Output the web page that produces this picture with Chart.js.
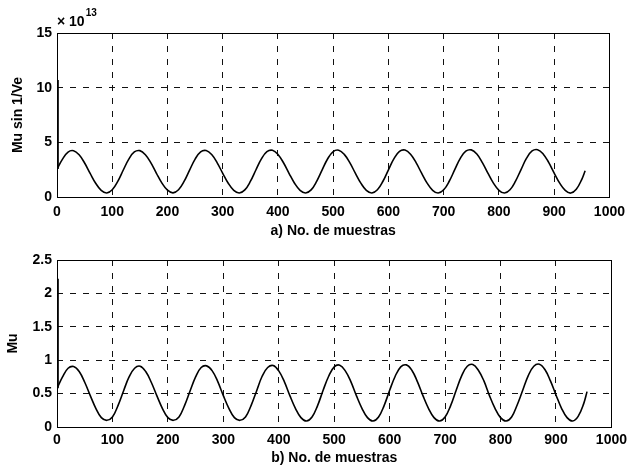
<!DOCTYPE html>
<html>
<head>
<meta charset="utf-8">
<script src="https://cdn.jsdelivr.net/npm/chart.js@4/dist/chart.umd.min.js"></script>
<style>
    html, body { margin: 0; padding: 0; background: #fff; }
    #wrap { position: relative; width: 632px; height: 470px; overflow: hidden; }
    canvas { position: absolute; left: 0; }
    #chartA { top: 0; }
    #chartB { top: 240px; }
</style>
</head>
<body>
<div id="wrap">
    <canvas id="chartA" width="632" height="245"></canvas>
    <canvas id="chartB" width="632" height="230"></canvas>
</div>
<script>
// sample index (No. de muestras)
const sampleX = [
    0, 10, 20, 30, 40, 50, 60, 70, 80, 90, 100, 110,
    120, 130, 140, 150, 160, 170, 180, 190, 200, 210, 220, 230,
    240, 250, 260, 270, 280, 290, 300, 310, 320, 330, 340, 350,
    360, 370, 380, 390, 400, 410, 420, 430, 440, 450, 460, 470,
    480, 490, 500, 510, 520, 530, 540, 550, 560, 570, 580, 590,
    600, 610, 620, 630, 640, 650, 660, 670, 680, 690, 700, 710,
    720, 730, 740, 750, 760, 770, 780, 790, 800, 810, 820, 830,
    840, 850, 860, 870, 880, 890, 900, 910, 920, 930, 940, 950,
    956
];

// a) Mu sin 1/Ve, in units of 1e13
const muSinVe = [
    2.55, 3.46, 4.11, 4.23, 3.86, 3.11, 2.16, 1.26, 0.61, 0.37, 0.66, 1.43,
    2.47, 3.47, 4.12, 4.24, 3.87, 3.12, 2.17, 1.27, 0.62, 0.38, 0.66, 1.42,
    2.46, 3.47, 4.13, 4.25, 3.88, 3.12, 2.17, 1.26, 0.61, 0.37, 0.65, 1.42,
    2.47, 3.48, 4.14, 4.27, 3.89, 3.13, 2.17, 1.26, 0.61, 0.37, 0.65, 1.43,
    2.48, 3.50, 4.16, 4.28, 3.90, 3.14, 2.18, 1.27, 0.61, 0.37, 0.66, 1.44,
    2.49, 3.51, 4.17, 4.29, 3.91, 3.14, 2.18, 1.27, 0.61, 0.36, 0.66, 1.44,
    2.50, 3.53, 4.19, 4.31, 3.93, 3.15, 2.18, 1.27, 0.61, 0.36, 0.66, 1.45,
    2.51, 3.55, 4.21, 4.33, 3.94, 3.16, 2.19, 1.27, 0.61, 0.36, 0.70, 1.62,
    2.40
];

// b) Mu
const mu = [
    0.58, 0.75, 0.88, 0.905, 0.83, 0.67, 0.47, 0.28, 0.14, 0.10, 0.15, 0.32,
    0.54, 0.75, 0.88, 0.91, 0.83, 0.67, 0.47, 0.28, 0.14, 0.10, 0.15, 0.32,
    0.54, 0.75, 0.89, 0.915, 0.84, 0.68, 0.47, 0.28, 0.14, 0.10, 0.15, 0.32,
    0.54, 0.76, 0.89, 0.92, 0.84, 0.68, 0.47, 0.28, 0.14, 0.09, 0.15, 0.32,
    0.55, 0.76, 0.90, 0.925, 0.84, 0.68, 0.47, 0.28, 0.14, 0.09, 0.15, 0.32,
    0.55, 0.76, 0.90, 0.93, 0.85, 0.68, 0.47, 0.28, 0.14, 0.09, 0.15, 0.32,
    0.55, 0.77, 0.91, 0.935, 0.85, 0.69, 0.47, 0.28, 0.14, 0.09, 0.15, 0.33,
    0.55, 0.77, 0.91, 0.94, 0.86, 0.69, 0.48, 0.28, 0.14, 0.09, 0.16, 0.35,
    0.53
];

// start-up transient in the first samples (vertical jump)
const spikeX = [1.5, 1.5];
const spikeA = [10.7, 2.55];
const spikeB = [2.22, 0.58];

const xTicks = [0, 100, 200, 300, 400, 500, 600, 700, 800, 900, 1000];
const yTicksA = [0, 5, 10, 15];
const yTicksB = [0, 0.5, 1, 1.5, 2, 2.5];

Chart.defaults.font.family = '"Liberation Sans", Arial, Helvetica, sans-serif';
Chart.defaults.font.size = 14;
Chart.defaults.font.weight = 'bold';
Chart.defaults.color = '#000';

const toPoints = (xs, ys) => xs.map((x, i) => ({ x: x, y: ys[i] }));

// solid box round the plot area, drawn under the curves
const frameBox = {
    id: 'frameBox',
    beforeDatasetsDraw(chart) {
        const { ctx, chartArea: a } = chart;
        ctx.save();
        ctx.strokeStyle = '#000';
        ctx.lineWidth = 1;
        ctx.setLineDash([]);
        ctx.strokeRect(Math.round(a.left) + 0.5, Math.round(a.top) + 0.5,
            Math.round(a.right - a.left), Math.round(a.bottom - a.top));
        ctx.restore();
    }
};

// "x 10^13" multiplier above the y axis
const exponentLabel = {
    id: 'exponentLabel',
    afterDraw(chart) {
        const { ctx, chartArea: a } = chart;
        ctx.save();
        ctx.fillStyle = '#000';
        ctx.textBaseline = 'alphabetic';
        ctx.textAlign = 'left';
        ctx.font = 'bold 14px "Liberation Sans", Arial, sans-serif';
        const base = '\u00d7 10';
        ctx.fillText(base, a.left, a.top - 7);
        const w = ctx.measureText(base).width;
        ctx.font = 'bold 10px "Liberation Sans", Arial, sans-serif';
        ctx.fillText('13', a.left + w + 1, a.top - 17);
        ctx.restore();
    }
};

function makePlot(canvasId, opts) {
    const ctx = document.getElementById(canvasId).getContext('2d');
    const gridStyle = { color: '#111', lineWidth: 1, drawTicks: false };
    const dashed = { display: false, dash: [6, 7] };

    return new Chart(ctx, {
        type: 'line',
        data: {
            datasets: [{
                data: toPoints(sampleX, opts.values),
                borderColor: '#000', borderWidth: 1.6,
                pointRadius: 0, tension: 0.4, fill: false
            }, {
                data: toPoints(spikeX, opts.spike),
                borderColor: '#000', borderWidth: 2,
                pointRadius: 0, tension: 0, fill: false
            }]
        },
        options: {
            responsive: false,
            animation: false,
            devicePixelRatio: 1,
            layout: { padding: { top: opts.padTop, right: opts.padRight, left: 0, bottom: 0 } },
            plugins: { legend: { display: false }, tooltip: { enabled: false } },
            scales: {
                x: {
                    type: 'linear', min: 0, max: 1000,
                    afterBuildTicks: s => { s.ticks = xTicks.map(v => ({ value: v })); },
                    afterFit: s => { s.height = opts.xHeight; },
                    grid: gridStyle, border: dashed,
                    ticks: { padding: opts.xPad, maxRotation: 0, autoSkip: false, callback: v => String(v) },
                    title: { display: true, text: opts.xTitle, padding: { top: 0, bottom: opts.xTitlePad } }
                },
                y: {
                    type: 'linear', min: opts.yMin, max: opts.yMax,
                    afterBuildTicks: s => { s.ticks = opts.yTicks.map(v => ({ value: v })); },
                    afterFit: s => { s.width = 57; },
                    grid: gridStyle, border: dashed,
                    ticks: { padding: 5, callback: v => String(v) },
                    title: { display: true, text: opts.yTitle, padding: { top: opts.yTitlePad, bottom: 0 } }
                }
            }
        },
        plugins: opts.plugins
    });
}

// 1. Upper plot: Mu sin 1/Ve
makePlot('chartA', {
    values: muSinVe, spike: spikeA,
    yMin: 0, yMax: 15, yTicks: yTicksA,
    yTitle: 'Mu sin 1/Ve', xTitle: 'a) No. de muestras',
    padTop: 33, padRight: 20, xHeight: 48, xPad: 7, xTitlePad: 5, yTitlePad: 10,
    plugins: [frameBox, exponentLabel]
});

// 2. Lower plot: Mu
makePlot('chartB', {
    values: mu, spike: spikeB,
    yMin: 0, yMax: 2.5, yTicks: yTicksB,
    yTitle: 'Mu', xTitle: 'b) No. de muestras',
    padTop: 20, padRight: 19, xHeight: 43, xPad: 5, xTitlePad: 3, yTitlePad: 5,
    plugins: [frameBox]
});
</script>
</body>
</html>
